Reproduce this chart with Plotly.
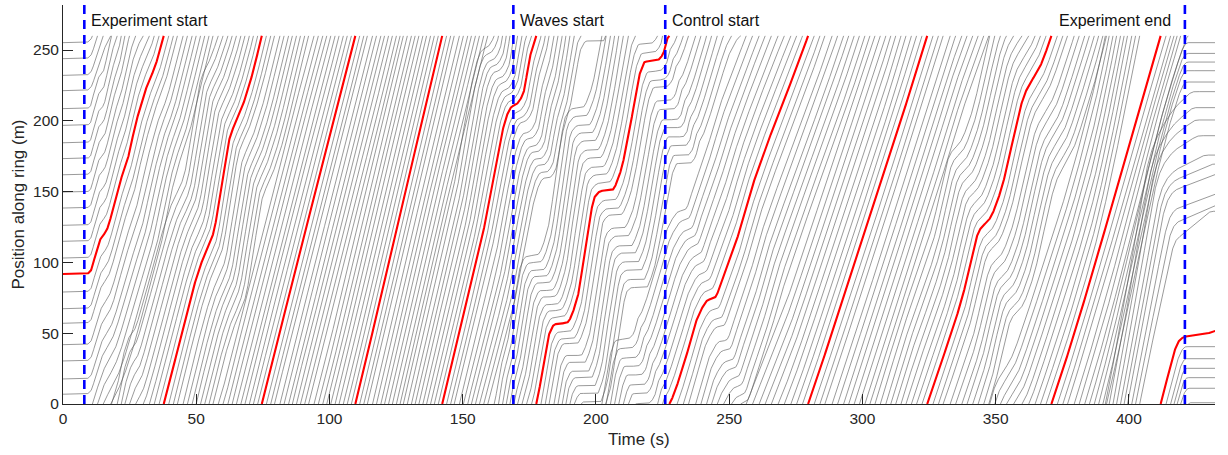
import numpy as np
import plotly.graph_objects as go

RING = 260.0  # ring length (m)

# Highlighted (red) vehicle: time (s) and distance travelled along ring, unwrapped (m)
red_t = [0.0, 8.6, 10.2, 12.0, 13.9, 16.4, 20.8, 24.5, 27.0, 31.4, 34.5, 37.8,
         42.7, 47.7, 51.4, 56.4, 59.5, 62.7, 66.4, 70.8, 74.6,
         92.0, 109.7, 126.0, 142.3, 156.5, 168.4, 170.2, 172.7, 175.2, 177.6,
         180.2, 182.1, 184.6, 189.0, 192.8, 196.5, 199.6, 202.1, 205.9, 209.0,
         212.8, 216.5, 218.4, 222.8, 225.3, 226.5, 227.7, 232.7, 238.3, 242.0,
         244.6, 247.7, 252.8, 257.0, 279.6, 295.3, 311.0, 324.3, 337.2, 344.0,
         347.8, 351.6, 361.0, 362.9, 366.6, 370.9, 411.9, 419.1, 421.0, 426.7,
         431.5, 433.0]
red_x = [91.8, 91.8, 93.5, 104.0, 115.8, 122.9, 153.5, 174.6, 195.8, 224.0, 238.2, 260.0,
         295.8, 333.4, 357.0, 380.5, 413.5, 448.8, 465.3, 491.2, 520.0,
         650.0, 780.0, 910.0, 1040.0, 1151.0, 1250.0, 1251.8, 1259.4, 1285.0, 1300.0,
         1326.3, 1347.5, 1356.3, 1357.4, 1373.4, 1415.8, 1446.4, 1450.5, 1451.0, 1462.9,
         1495.8, 1533.5, 1541.6, 1542.6, 1547.7, 1557.0, 1560.5, 1586.3, 1621.7, 1633.4,
         1635.2, 1649.9, 1675.8, 1704.0, 1820.0, 1908.8, 1999.4, 2080.0, 2153.4, 2202.9,
         2211.0, 2228.7, 2299.4, 2306.4, 2318.2, 2340.0, 2600.0, 2645.2, 2647.5, 2648.7,
         2651.0, 2652.0]

# Other vehicles, in order behind the red one (m)
start_pos = [79.1, 67.3, 57.0, 41.9, 30.4, 17.7, 6.9, 255.2, 243.9, 232.1, 221.3,
             208.6, 196.8, 184.5, 173.3, 161.9, 149.7, 138.4, 126.2, 114.9, 103.1]
final_pos = [40.5, 32.0, 25.2, 18.6, 11.1, 0.9, 255.2, 247.6, 241.5, 235.4, 227.4,
             220.6, 209.3, 200.6, 189.5, 175.8, 169.5, 162.4, 150.7, 143.1, 136.1]
# distance still to cover when braking begins near the end (m)
final_gap = [6.0, 8.0, 10.0, 12.0, 14.0, 16.0, 10.0, 9.0, 9.0, 8.0, 8.0,
             8.0, 8.0, 8.0, 8.0, 9.0, 10.0, 10.0, 12.0, 14.0, 18.0]
follow_lag = 1.1  # s per vehicle (car-following delay estimated from the wave bands)

event_t = [8.0, 169.0, 226.0, 421.0]
event_labels = ["Experiment start", "Waves start", "Control start", "Experiment end"]


def pchip(xk, yk, x):
    xk = np.asarray(xk, float); yk = np.asarray(yk, float)
    h = np.diff(xk); d = np.diff(yk) / h
    m = np.zeros_like(yk)
    for i in range(1, len(xk) - 1):
        if d[i - 1] * d[i] <= 0:
            m[i] = 0.0
        else:
            w1 = 2 * h[i] + h[i - 1]; w2 = h[i] + 2 * h[i - 1]
            m[i] = (w1 + w2) / (w1 / d[i - 1] + w2 / d[i])
    m[0] = d[0]; m[-1] = d[-1]
    x = np.clip(x, xk[0], xk[-1])
    idx = np.clip(np.searchsorted(xk, x, side='right') - 1, 0, len(h) - 1)
    s = (x - xk[idx]) / h[idx]
    h00 = 2 * s**3 - 3 * s**2 + 1; h10 = s**3 - 2 * s**2 + s
    h01 = -2 * s**3 + 3 * s**2; h11 = s**3 - s**2
    return h00 * yk[idx] + h10 * h[idx] * m[idx] + h01 * yk[idx + 1] + h11 * h[idx] * m[idx + 1]


def smoothstep(t, a, b):
    r = np.clip((t - a) / (b - a), 0, 1)
    return r * r * (3 - 2 * r)


dt = 0.1
tg = np.arange(0, 433.0 + 1e-9, dt)
S = pchip(red_t, red_x, tg)
win = int(60 / dt)
Sp = np.pad(S, win, mode='edge')
Sbar = np.convolve(Sp, np.ones(win) / win, mode='same')[win:-win]

ramp = smoothstep(tg, 8.0, 38.0)
end_w = smoothstep(tg, 385.0, 419.0)
n_other = len(start_pos)
t_brake = 419.0
Tb = 3.0
ib = int(round(t_brake / dt))


def wrap(t, X):
    xs, ys = [], []
    lap = np.floor(X / RING)
    xs.append(float(t[0])); ys.append(float(X[0] - lap[0] * RING))
    for i in range(1, len(t)):
        if lap[i] != lap[i - 1]:
            b = lap[i] * RING
            f = (b - X[i - 1]) / (X[i] - X[i - 1])
            tc = float(t[i - 1] + f * (t[i] - t[i - 1]))
            xs += [tc, None, tc]; ys += [RING, None, 0.0]
        xs.append(float(t[i])); ys.append(float(X[i] - lap[i] * RING))
    return xs, ys


bx, by = [], []
for j in range(1, n_other + 1):
    jp = j if j <= n_other // 2 + 1 else j - (n_other + 1)
    L = jp * follow_lag * ramp
    tq = tg - L
    X = start_pos[j - 1] + (np.interp(tq, tg, S) - S[0]) + (Sbar - np.interp(tq, tg, Sbar))
    X = np.maximum.accumulate(X)
    # shift gradually so that braking starts final_gap before the parking spot
    target = final_pos[j - 1] - final_gap[j - 1]
    off = (target - X[ib]) % RING
    if off > RING / 2:
        off -= RING
    X = X + off * end_w
    x0 = X[ib]; v0 = max((X[ib] - X[ib - 5]) / (5 * dt), 0.5)
    xf = x0 + final_gap[j - 1]
    D = xf - x0
    if D >= v0 * Tb / 2:
        tc = (D - v0 * Tb / 2) / v0; tb = Tb
    else:
        tc = 0.0; tb = 2 * D / v0
    s = tg[ib:] - t_brake
    pos = np.where(s <= tc, x0 + v0 * s,
                   np.where(s <= tc + tb,
                            x0 + v0 * tc + v0 * (s - tc) - v0 * (s - tc)**2 / (2 * tb),
                            xf))
    X = np.maximum.accumulate(np.concatenate([X[:ib], pos]))
    xs, ys = wrap(tg, X)
    bx += xs + [None]; by += ys + [None]

rx, ry = wrap(tg, S)

fig = go.Figure()
fig.add_trace(go.Scatter(x=bx, y=by, mode='lines', line=dict(color='#555555', width=0.6),
                         hoverinfo='skip', connectgaps=False))
fig.add_trace(go.Scatter(x=rx, y=ry, mode='lines', line=dict(color='#ff0000', width=2.1),
                         hoverinfo='skip', connectgaps=False))

for et in event_t:
    fig.add_shape(type='line', x0=et, x1=et, xref='x', yref='paper', y0=0, y1=1,
                  line=dict(color='#0000ff', width=2.6, dash='9px,6px'), layer='above')

for et, lab in zip(event_t, event_labels):
    if lab == "Experiment end":
        fig.add_annotation(x=et, y=0.962, xref='x', yref='paper', text=lab, showarrow=False,
                           xanchor='right', yanchor='middle', xshift=-12,
                           font=dict(size=16, color='#111111'))
    else:
        fig.add_annotation(x=et, y=0.962, xref='x', yref='paper', text=lab, showarrow=False,
                           xanchor='left', yanchor='middle', xshift=5,
                           font=dict(size=16, color='#111111'))

fig.add_annotation(x=0.5, y=-0.09, xref='paper', yref='paper', text='Time (s)',
                   showarrow=False, xanchor='center', yanchor='middle',
                   font=dict(size=17, color='#262626'))
fig.add_annotation(x=-0.039, y=0.5, xref='paper', yref='paper', text='Position along ring (m)',
                   showarrow=False, xanchor='center', yanchor='middle', textangle=-90,
                   font=dict(size=17, color='#262626'))

fig.update_layout(width=1228, height=455, margin=dict(l=63, r=13, t=5, b=51),
                  paper_bgcolor='white', plot_bgcolor='white', showlegend=False,
                  font=dict(family='Liberation Sans, Arial, Helvetica, sans-serif', color='#262626'))
fig.update_xaxes(range=[0, 432.3], tickvals=list(range(0, 401, 50)), ticks='inside', ticklen=10,
                 tickcolor='#262626', showline=True, linecolor='#262626', linewidth=1,
                 showgrid=False, zeroline=False, tickfont=dict(size=15.5), automargin=False)
fig.update_yaxes(range=[0, 281.8], tickvals=list(range(0, 251, 50)), ticks='inside', ticklen=10,
                 tickcolor='#262626', showline=True, linecolor='#262626', linewidth=1,
                 showgrid=False, zeroline=False, tickfont=dict(size=15.5), automargin=False)

fig.write_html("out.html", config={'displayModeBar': False},
               post_script="document.body.style.margin='0px';")
